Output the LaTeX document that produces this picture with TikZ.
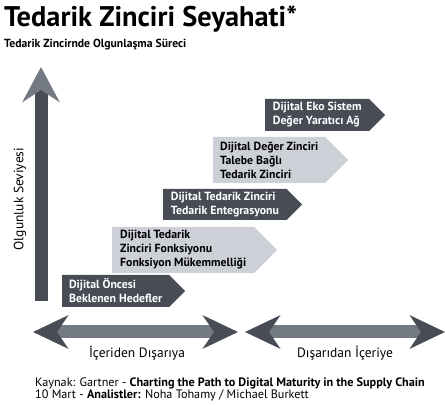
\documentclass[tikz,border=0pt]{standalone}
\usepackage{fontspec}
\setmainfont{PT Sans}
\usepackage{tikz}
\usetikzlibrary{arrows.meta,shapes.symbols}
\definecolor{MatDark}{HTML}{474C55}
\definecolor{MatMid}{HTML}{737A84}
\definecolor{MatLight}{HTML}{CDD0D6}
\tikzset{
  stage/.style={signal, signal to=east, signal from=nowhere, signal pointer angle=90,
    align=left, inner xsep=3pt, inner ysep=1pt, anchor=west,
    font=\bfseries\fontsize{11.8}{14}\selectfont},
  darkstage/.style={stage, fill=MatDark, text=white},
  lightstage/.style={stage, fill=MatLight, text=black},
  levelaxis/.style={line width=13pt, draw=MatDark,
    -{Stealth[length=35pt, width=37pt, inset=12pt, color=MatMid]}},
  flowaxis/.style={line width=13pt, draw=MatMid,
    {Stealth[length=35pt, width=33pt, inset=11pt, color=MatDark]}-{Stealth[length=35pt, width=33pt, inset=11pt, color=MatDark]}},
  axislabel/.style={font=\fontsize{13.5}{16}\selectfont},
  sourcetext/.style={anchor=base west, inner sep=0pt, font=\fontsize{12.2}{13}\selectfont}
}

\begin{document}
\begin{tikzpicture}[x=1pt, y=-1pt]
  \useasboundingbox (0,0) rectangle (445,406);
  \node[anchor=base west, inner sep=0pt, font=\bfseries\fontsize{28.4}{34}\selectfont] (title) at (4,27) {Tedarik Zinciri Seyahati*};
  \node[anchor=base west, inner sep=0pt, font=\bfseries\fontsize{11.7}{13}\selectfont] (subtitle) at (4,47.5) {Tedarik Zincirnde Olgunlaşma Süreci};
  % axes
  \coordinate (vbot) at (41,301);
  \coordinate (vtop) at (41,67);
  \draw[levelaxis] (vbot) -- (vtop);
  \node[axislabel, rotate=90] (level) at (20,199) {Olgunluk Seviyesi};
  \coordinate (inL) at (33,332);
  \coordinate (inR) at (238,332);
  \coordinate (outL) at (245,332);
  \coordinate (outR) at (445,332);
  \draw[flowaxis] (inL) -- (inR);
  \draw[flowaxis] (outL) -- (outR);
  \node[axislabel] (inout) at (137,353) {İçeriden Dışarıya};
  \node[axislabel] (outin) at (345,353) {Dışarıdan İçeriye};
  % stages
  \node[darkstage, minimum width=123pt, minimum height=32pt] (predigital) at (62,291) {Dijital Öncesi\\Beklenen Hedefler};
  \node[lightstage, minimum width=165pt, minimum height=46pt] (function) at (112,250) {Dijital Tedarik\\Zinciri Fonksiyonu\\Fonksiyon Mükemmelliği};
  \node[darkstage, minimum width=139pt, minimum height=31pt] (integration) at (163,204.5) {Dijital Tedarik Zinciri\\Tedarik Entegrasyonu};
  \node[lightstage, minimum width=135pt, minimum height=46pt] (demand) at (213,160) {Dijital Değer Zinciri\\Talebe Bağlı\\Tedarik Zinciri};
  \node[darkstage, minimum width=120pt, minimum height=32pt] (ecosystem) at (265,115) {Dijital Eko Sistem\\Değer Yaratıcı Ağ};
  % source
  \node[sourcetext] (source) at (35,386.5) {Kaynak: Gartner - \textbf{Charting the Path to Digital Maturity in the Supply Chain}};
  \node[sourcetext] (analysts) at (35,399) {10 Mart - \textbf{Analistler:} Noha Tohamy / Michael Burkett};
\end{tikzpicture}
\end{document}
